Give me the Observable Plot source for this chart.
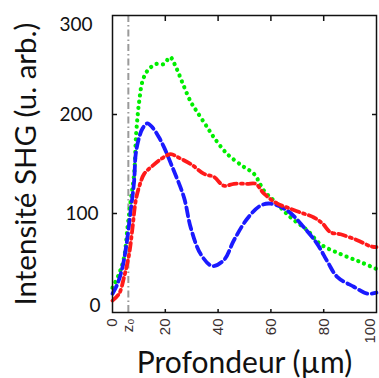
<!DOCTYPE html>
<html><head><meta charset="utf-8">
<script src="https://cdn.jsdelivr.net/npm/d3@7"></script>
<script src="https://cdn.jsdelivr.net/npm/@observablehq/plot@0.6"></script>
<style>body{margin:0;background:#fff}</style>
</head><body><div id="chart"></div>
<script>
const greenDepth = [0, 2.5, 4.4, 5.7, 6.9, 8.2, 9.0, 10.1, 11.4, 13.2, 16.4, 19.5, 21.8, 24, 26.5, 29.6, 32.2, 35.9, 38.4, 43.5, 49.8, 53.6, 57.4, 61.1, 67.5, 73.8, 78.8, 86.4, 93.9, 100];
const greenValue = [25, 39, 56, 86, 113, 140, 182, 213, 234, 244, 251, 251, 258, 248, 232, 213, 202, 187, 177, 160, 147, 140, 123, 113, 96, 83, 69, 59, 51, 44];

const blueDepth = [0, 1.9, 3.8, 5.3, 6.9, 8.2, 8.8, 10.1, 11.4, 13.2, 15.1, 17.6, 19.5, 22.5, 27.1, 29.6, 33.4, 37.8, 42.2, 46, 51.1, 56.1, 59.9, 66.2, 72.5, 77.6, 81.5, 85.1, 91.4, 96.5, 100];
const blueValue = [19, 29, 46, 69, 103, 133, 160, 177, 186, 191, 187, 177, 167, 148, 116, 86, 59, 47, 53, 73, 95, 108, 110, 103, 86, 69, 51, 36, 26, 19, 20];

const redDepth = [0, 2.5, 4.4, 6.3, 7.6, 8.8, 10.1, 12, 15.1, 18.9, 22.1, 24.6, 29.6, 34.7, 38.4, 42.2, 46, 51.1, 54.2, 57.4, 62.4, 66.2, 71.2, 76.3, 79.5, 82.6, 86.4, 92.7, 97.7, 100];
const redValue = [12, 19, 36, 59, 86, 113, 127, 140, 148, 156, 160, 157, 150, 140, 137, 128, 130, 130, 130, 120, 110, 106, 101, 96, 90, 81, 79, 73, 67, 66];

const z0Depth = [6];
const xTicks = [0, 6, 20, 40, 60, 80, 100];
const xTickLabels = ["0", "z₀", "20", "40", "60", "80", "100"];
const yTickLabels = {0: "0", 100: "100", 200: "200", 300: "300"};
const xTitle = "Profondeur (µm)";
const yTitle = "Intensité SHG (u. arb.)";

const toRows = (d, v) => d.map((x, i) => ({depth: x, value: v[i]}));
const green = toRows(greenDepth, greenValue);
const blue = toRows(blueDepth, blueValue);
const red = toRows(redDepth, redValue);
const xLabel = d => xTickLabels[xTicks.indexOf(d)];
const xLabelStyle = {anchor: "bottom", tickSize: 0, tickPadding: 6, tickRotate: -90, tickFormat: xLabel, label: null, fontSize: 15, fontFamily: "Liberation Sans", fill: "#3a3030"};

const lw = 3.8;
const chart = Plot.plot({
  width: 379, height: 378,
  marginLeft: 112, marginRight: 3, marginTop: 15, marginBottom: 66,
  x: {domain: [0, 100]},
  y: {domain: [0, 300]},
  style: {fontFamily: "Lato", background: "white", color: "#111"},
  marks: [
    Plot.ruleX(z0Depth, {stroke: "#9a9a9a", strokeWidth: 2, strokeDasharray: "7 3 1.5 3"}),
    Plot.line(green, {x: "depth", y: "value", stroke: "#00ee00", strokeWidth: 4.2, strokeDasharray: "0.1 6.2", strokeLinecap: "round", curve: "catmull-rom"}),
    Plot.line(blue, {x: "depth", y: "value", stroke: "#1a1aff", strokeWidth: lw, strokeDasharray: "9 4.5", curve: "catmull-rom"}),
    Plot.line(red, {x: "depth", y: "value", stroke: "#ff1a1a", strokeWidth: lw, strokeDasharray: "8 4 2 4", curve: "catmull-rom"}),
    Plot.frame({stroke: "#111", strokeWidth: 1.5}),
    Plot.axisX({anchor: "top", ticks: [20, 40, 60, 80], tickSize: -5, tickFormat: () => "", label: null, strokeWidth: 1.5}),
    Plot.axisX({anchor: "bottom", ticks: [20, 40, 60, 80], tickSize: -3, tickFormat: () => "", label: null, strokeWidth: 1.5}),
    Plot.axisY({anchor: "left", ticks: [100, 200], tickSize: -5, tickFormat: () => "", label: null, strokeWidth: 1.5}),
    Plot.axisY({anchor: "right", ticks: [100, 200], tickSize: -5, tickFormat: () => "", label: null, strokeWidth: 1.5}),
    Plot.axisX({...xLabelStyle, ticks: xTicks.slice(0, -1)}),
    Plot.axisX({...xLabelStyle, ticks: xTicks.slice(-1), dx: -6}),
    Plot.axisY({anchor: "left", ticks: [300], tickSize: 0, tickPadding: 20, dy: 9, tickFormat: d => yTickLabels[d], label: null, fontSize: 19}),
    Plot.axisY({anchor: "left", ticks: [200], tickSize: 0, tickPadding: 20, tickFormat: d => yTickLabels[d], label: null, fontSize: 19}),
    Plot.axisY({anchor: "left", ticks: [100], tickSize: 0, tickPadding: 14, tickFormat: d => yTickLabels[d], label: null, fontSize: 19}),
    Plot.axisY({anchor: "left", ticks: [0], tickSize: 0, tickPadding: 12, dy: -7, tickFormat: d => yTickLabels[d], label: null, fontSize: 19}),
    Plot.text([yTitle], {text: d => d, frameAnchor: "left", textAnchor: "middle", lineAnchor: "middle", dx: -86, rotate: -90, fontSize: 29.5, fill: "#111"}),
    Plot.text([xTitle], {text: d => d, frameAnchor: "bottom", textAnchor: "middle", dy: 60, fontSize: 30, fill: "#111"})
  ]
});
document.getElementById("chart").appendChild(chart);
</script>
</body></html>
